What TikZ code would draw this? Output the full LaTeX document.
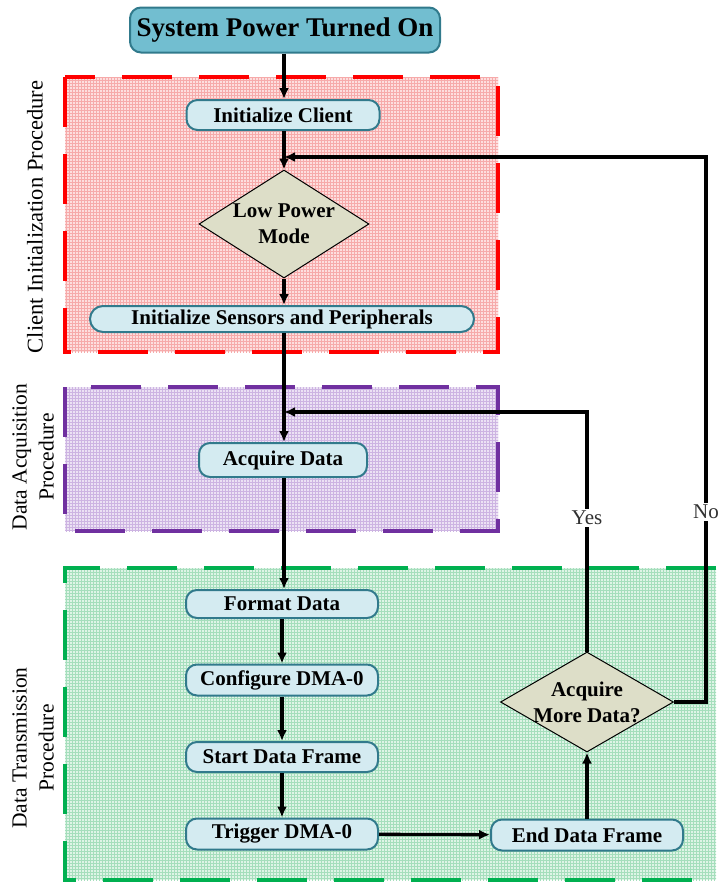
\documentclass[tikz,border=0pt]{standalone}
\usepackage{fontspec}
\setmainfont{Liberation Serif}
\usetikzlibrary{shapes.geometric,arrows.meta,patterns}

\definecolor{boxfill}{RGB}{212,235,241}
\definecolor{boxline}{RGB}{49,122,140}
\definecolor{titlefill}{RGB}{114,190,208}
\definecolor{decfill}{RGB}{221,222,200}
\definecolor{redzone}{RGB}{255,0,0}
\definecolor{redfill}{RGB}{253,222,222}
\definecolor{redgrid}{RGB}{246,170,170}
\definecolor{purplezone}{RGB}{112,48,160}
\definecolor{purplefill}{RGB}{236,226,244}
\definecolor{purplegrid}{RGB}{205,180,226}
\definecolor{greenzone}{RGB}{0,176,80}
\definecolor{greenfill}{RGB}{222,244,230}
\definecolor{greengrid}{RGB}{165,222,188}
\definecolor{labelgray}{RGB}{50,50,50}

\tikzset{
  stepbox/.style={draw=boxline, line width=2pt, fill=boxfill, rounded corners=11pt,
    inner sep=0pt, font=\fontsize{21}{26}\selectfont\bfseries},
  titlebox/.style={draw=boxline, line width=2pt, fill=titlefill, rounded corners=11pt,
    inner sep=0pt, font=\fontsize{27}{30}\selectfont\bfseries},
  decision/.style={diamond, aspect=1.6, draw=black, line width=1pt, fill=decfill, inner sep=-10pt,
    align=center, font=\fontsize{21}{26}\selectfont\bfseries},
  flow/.style={line width=3.3pt, -{Latex[length=11pt,width=10pt]}},
  zone/.style={line width=3.8pt, dash pattern=on 50pt off 27pt},
  zonelabel/.style={rotate=90, align=center, font=\fontsize{22.5}{27}\selectfont},
  branch/.style={fill=white, inner sep=2pt, text=labelgray, font=\fontsize{21}{24}\selectfont},
}

\begin{document}
\begin{tikzpicture}[x=1pt, y=-1pt]
\useasboundingbox (0,0) rectangle (722,884);

% procedure zones
\fill[redfill] (65,77) rectangle (498,352);
\fill[pattern=grid, pattern color=redgrid] (65,77) rectangle (498,352);
\draw[zone, redzone] (65,77) rectangle (498,352);

\fill[purplefill] (65,387) rectangle (498,531);
\fill[pattern=grid, pattern color=purplegrid] (65,387) rectangle (498,531);
\draw[zone, purplezone] (65,387) rectangle (498,531);

\fill[greenfill] (65,568) rectangle (716,880);
\fill[pattern=grid, pattern color=greengrid] (65,568) rectangle (716,880);
\draw[zone, greenzone] (716,568) -- (65,568) -- (65,880) -- (716,880);

% zone captions
\node[zonelabel] (capclient) at (35,217) {Client Initialization Procedure};
\node[zonelabel, font=\fontsize{21.5}{27}\selectfont] (capacq) at (33,457) {Data Acquisition\\Procedure};
\node[zonelabel, font=\fontsize{21.5}{27}\selectfont] (captx) at (33,748) {Data Transmission\\Procedure};

% flow steps
\node[titlebox, minimum width=310pt, minimum height=45pt] (power) at (285,30) {System Power Turned On};
\node[stepbox, minimum width=193pt, minimum height=30pt] (initc) at (283,115) {Initialize Client};
\node[decision, minimum width=170pt, minimum height=108pt] (lpm) at (284,224) {Low Power\\Mode};
\node[stepbox, minimum width=384pt, minimum height=26pt, rounded corners=13pt] (sensors) at (282,319) {Initialize Sensors and Peripherals};
\node[stepbox, minimum width=168pt, minimum height=34pt] (acq) at (283,460) {Acquire Data};
\node[stepbox, minimum width=192pt, minimum height=28pt] (fmt) at (282,604) {Format Data};
\node[stepbox, minimum width=192pt, minimum height=31pt] (cfg) at (282,680) {Configure DMA-0};
\node[stepbox, minimum width=192pt, minimum height=30pt] (sdf) at (282,757) {Start Data Frame};
\node[stepbox, minimum width=192pt, minimum height=31pt] (trig) at (282,834) {Trigger DMA-0};
\node[stepbox, minimum width=192pt, minimum height=31pt] (edf) at (587,835) {End Data Frame};
\node[decision, minimum width=173pt, minimum height=100pt] (amd) at (587,702) {Acquire\\More Data?};

% merge points and loop corners
\coordinate (joinlp) at (284,157);
\coordinate (joinacq) at (284,412);
\coordinate (nocorner) at (706,157);
\coordinate (yescorner) at (587,412);

% connectors
\draw[flow] (power.south -| joinlp) -- (initc.north -| joinlp);
\draw[flow] (initc.south -| joinlp) -- (lpm.north);
\draw[flow] (lpm.south) -- (sensors.north -| joinlp);
\draw[flow] (sensors.south -| joinlp) -- (acq.north -| joinlp);
\draw[flow] (acq.south -| joinlp) -- (fmt.north -| joinlp);
\draw[flow] (fmt) -- (cfg);
\draw[flow] (cfg) -- (sdf);
\draw[flow] (sdf) -- (trig);
\draw[flow] (trig) -- (edf);
\draw[flow] (edf) -- (amd);

\draw[flow] (amd.north) -- (yescorner) -- (joinacq);
\draw[flow] (amd.east) -| (nocorner) -- (joinlp);

\node[branch] (yes) at (587,518) {Yes};
\node[branch] (no) at (706,512) {No};
\end{tikzpicture}
\end{document}
